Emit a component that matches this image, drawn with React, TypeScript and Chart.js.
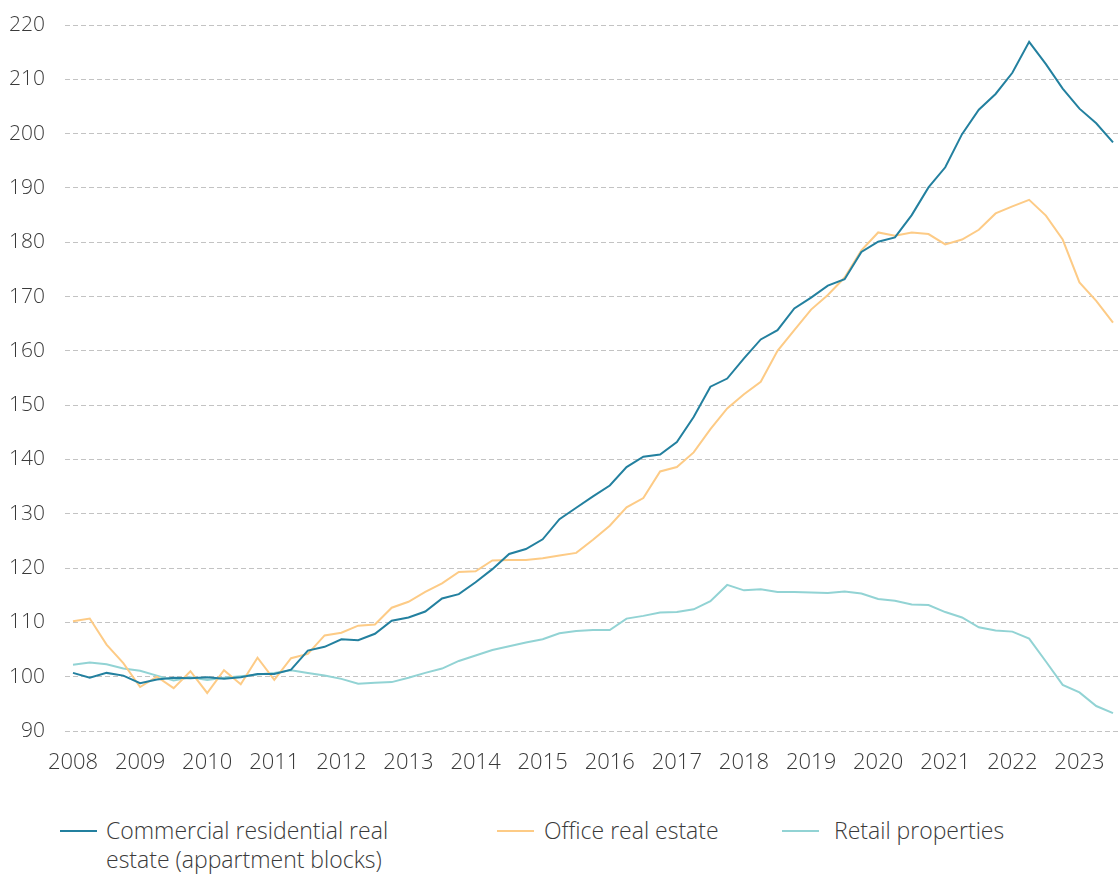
import React, { useEffect, useRef } from "react";
import { Chart, registerables } from "chart.js";

Chart.register(...registerables);

// Quarterly index values, 2008 Q1 – 2023 Q3
const years = ["2008", "2009", "2010", "2011", "2012", "2013", "2014", "2015", "2016", "2017", "2018", "2019", "2020", "2021", "2022", "2023"];

const residential = [
  100.7, 99.8, 100.7, 100.2, 98.8, 99.5, 99.8, 99.7,
  99.9, 99.6, 99.9, 100.5, 100.5, 101.3, 104.8, 105.5,
  106.9, 106.7, 107.9, 110.3, 110.9, 112.0, 114.4, 115.2,
  117.4, 119.8, 122.6, 123.5, 125.3, 129.0, 131.1, 133.2,
  135.2, 138.6, 140.5, 140.9, 143.2, 147.8, 153.4, 154.9,
  158.6, 162.1, 163.8, 167.8, 169.8, 172.0, 173.2, 178.2,
  180.1, 180.9, 185.0, 190.1, 193.8, 199.9, 204.4, 207.3,
  211.2, 216.9, 212.8, 208.3, 204.6, 201.9, 198.4,
];

const office = [
  110.2, 110.7, 105.9, 102.5, 98.1, 100.0, 97.9, 101.0,
  97.0, 101.2, 98.6, 103.5, 99.4, 103.4, 104.2, 107.6,
  108.1, 109.4, 109.6, 112.7, 113.8, 115.6, 117.2, 119.3,
  119.4, 121.4, 121.5, 121.5, 121.8, 122.3, 122.8, 125.2,
  127.8, 131.2, 132.9, 137.8, 138.6, 141.3, 145.6, 149.4,
  152.0, 154.3, 160.0, 163.8, 167.6, 170.3, 173.5, 178.5,
  181.8, 181.2, 181.8, 181.5, 179.6, 180.5, 182.3, 185.3,
  186.6, 187.8, 184.9, 180.5, 172.6, 169.2, 165.2,
];

const retail = [
  102.2, 102.6, 102.3, 101.5, 101.1, 100.2, 99.3, 99.9,
  99.4, 99.8, 100.1, 100.4, 100.7, 101.2, 100.7, 100.2,
  99.6, 98.7, 98.9, 99.0, 99.8, 100.7, 101.5, 102.9,
  103.9, 104.9, 105.6, 106.3, 106.9, 108.0, 108.4, 108.6,
  108.6, 110.7, 111.2, 111.8, 111.9, 112.4, 113.9, 116.9,
  115.9, 116.1, 115.6, 115.6, 115.5, 115.4, 115.7, 115.3,
  114.3, 114.0, 113.3, 113.2, 111.9, 110.9, 109.1, 108.5,
  108.3, 107.0, 102.8, 98.5, 97.1, 94.6, 93.3,
];

const yTicks = [90, 100, 110, 120, 130, 140, 150, 160, 170, 180, 190, 200, 210, 220];

const seriesNames = [
  ["Commercial residential real", "estate (appartment blocks)"],
  ["Office real estate"],
  ["Retail properties"],
];
const seriesColors = ["#23809f", "#fdcb86", "#92d3d4"];

const FONT = "'Open Sans', 'DejaVu Sans', sans-serif";
const TEXT = "#3a3a3a";

export default function App() {
  const ref = useRef<HTMLCanvasElement>(null);

  useEffect(() => {
    const toPts = (arr: number[]) => arr.map((v, i) => ({ x: i, y: v }));
    const chart = new Chart(ref.current as HTMLCanvasElement, {
      type: "line",
      data: {
        datasets: [
          { label: seriesNames[0].join(" "), data: toPts(residential), borderColor: seriesColors[0], borderWidth: 2 },
          { label: seriesNames[1].join(" "), data: toPts(office), borderColor: seriesColors[1], borderWidth: 2 },
          { label: seriesNames[2].join(" "), data: toPts(retail), borderColor: seriesColors[2], borderWidth: 2 },
        ],
      },
      options: {
        animation: false,
        responsive: false,
        layout: { padding: { top: 25, left: 0, right: 0, bottom: 0 } },
        plugins: { legend: { display: false }, tooltip: { enabled: false } },
        elements: { point: { radius: 0 }, line: { tension: 0 } },
        scales: {
          x: {
            type: "linear",
            min: -0.477,
            max: 62.417,
            grid: { display: false },
            border: { display: false },
            afterBuildTicks: (s: any) => {
              s.ticks = years.map((_, k) => ({ value: k * 4 }));
            },
            afterFit: (s: any) => {
              s.height = 59;
            },
            ticks: {
              autoSkip: false,
              maxRotation: 0,
              padding: 11,
              color: TEXT,
              font: { family: FONT, size: 22, weight: "300" as any },
              callback: (v: any) => years[Math.round(Number(v) / 4)] ?? "",
            },
          },
          y: {
            min: 90,
            max: 220,
            afterBuildTicks: (s: any) => {
              s.ticks = yTicks.map((v) => ({ value: v }));
            },
            afterFit: (s: any) => {
              s.width = 65;
              s.paddingTop = 0;
              s.paddingBottom = 0;
            },
            grid: { color: "#c3c3c3", lineWidth: 1, drawTicks: false },
            border: { display: false, dash: [5, 3] },
            ticks: {
              padding: 20,
              color: TEXT,
              font: { family: FONT, size: 21, weight: "300" as any },
            },
          },
        },
      },
    });
    return () => chart.destroy();
  }, []);

  const legendPos = [
    { line: 60, text: 106 },
    { line: 497, text: 544 },
    { line: 782, text: 834 },
  ];

  return (
    <div style={{ position: "absolute", left: 0, top: 0, width: 1120, height: 876, overflow: "hidden", background: "#fff" }}>
      <canvas ref={ref} width={1120} height={790} style={{ display: "block", width: 1120, height: 790 }} />
      {seriesNames.map((lines, i) => (
        <React.Fragment key={i}>
          <div
            style={{
              position: "absolute",
              left: legendPos[i].line,
              top: 830,
              width: 37,
              height: 2,
              background: seriesColors[i],
            }}
          />
          <div
            style={{
              position: "absolute",
              left: legendPos[i].text,
              top: 816,
              fontFamily: FONT,
              fontWeight: 300,
              fontSize: 23,
              lineHeight: "29px",
              color: TEXT,
              whiteSpace: "nowrap",
            }}
          >
            {lines.map((t, k) => (
              <div key={k}>{t}</div>
            ))}
          </div>
        </React.Fragment>
      ))}
    </div>
  );
}
